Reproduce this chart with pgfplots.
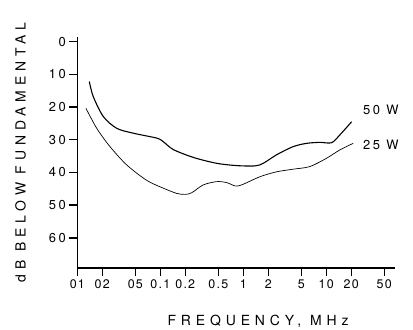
\documentclass[border=0pt]{standalone}
\usepackage{fontspec}
\setmainfont{TeX Gyre Heros}
\newfontfamily\labelfont{TeX Gyre Heros}[LetterSpace=35]
\newfontfamily\tickfont{TeX Gyre Heros}[LetterSpace=20]
\newfontfamily\xtickfont{TeX Gyre Heros}[LetterSpace=10]
\usepackage{pgfplots}
\pgfplotsset{compat=1.18}
\begin{document}
\begin{tikzpicture}
\begin{axis}[
  scale only axis,
  width=317.7bp, height=231bp,
  xmode=log,
  xmin=0.01, xmax=67.3,
  ymin=-1.4, ymax=69.2,
  y dir=reverse,
  axis lines*=left,
  axis line style={line width=1.2pt},
  tick align=outside,
  major tick length=8bp,
  every tick/.style={line width=1.4pt, black},
  minor tick num=0,
  log ticks with fixed point,
  xtick={0.01,0.02,0.05,0.1,0.2,0.5,1,2,5,10,20,50},
  xticklabels={01,02,05,0.1,0.2,0.5,1,2,5,10,20,50},
  ytick={0,10,20,30,40,50,60},
  /pgf/number format/assume math mode=true,
  yticklabel style={font=\tickfont\fontsize{13}{14}\selectfont},
  xticklabel style={font=\xtickfont\fontsize{12.5}{14}\selectfont},
  label style={font=\labelfont\fontsize{14}{16}\selectfont},
  xlabel={FREQUENCY, MHz},
  ylabel={dB BELOW FUNDAMENTAL},
  xlabel style={at={(axis description cs:0.569,-0.229)}, anchor=center},
  ylabel style={at={(axis description cs:-0.179,0.5)}, anchor=center, rotate=0},
  clip=false,
]
% 50 W
\addplot[black, line width=1.1pt, smooth, tension=0.5] coordinates {
 (0.01395,12.2) (0.01557,16.8) (0.02057,22.9) (0.02985,26.5) (0.0473,28.0)
 (0.0905,29.5) (0.1087,30.6) (0.1435,33.0) (0.25,35.4) (0.478,37.2)
 (0.832,37.9) (1.38,38.0) (1.74,37.2) (2.52,34.6) (3.99,32.1)
 (5.8,31.1) (8.4,30.8) (11.6,30.9) (14.6,28.5) (20.2,24.5)
};
% 25 W
\addplot[black, line width=0.7pt, smooth, tension=0.5] coordinates {
 (0.01273,20.4) (0.01714,26.5) (0.02477,32.1) (0.0394,37.7) (0.0686,42.4)
 (0.1087,44.8) (0.158,46.4) (0.1986,46.7) (0.239,46.2) (0.33,43.8)
 (0.478,42.8) (0.631,43.1) (0.795,44.1) (0.955,43.8) (1.59,41.3)
 (2.52,39.8) (3.99,39.0) (6.33,38.2) (10.0,35.7) (14.6,33.1) (21.1,31.1)
};
\node[anchor=west, inner sep=0pt, font=\tickfont\fontsize{13}{14}\selectfont] at (axis cs:27.7,20.9) {50 W};
\node[anchor=west, inner sep=0pt, font=\tickfont\fontsize{13}{14}\selectfont] at (axis cs:27.7,31.6) {25 W};
\coordinate (A) at (rel axis cs:0,0);
\end{axis}
\pgfresetboundingbox
\path[use as bounding box] ([shift={(-77.3bp,-62bp)}]A) rectangle ([shift={(335.7bp,268bp)}]A);
\end{tikzpicture}
\end{document}
